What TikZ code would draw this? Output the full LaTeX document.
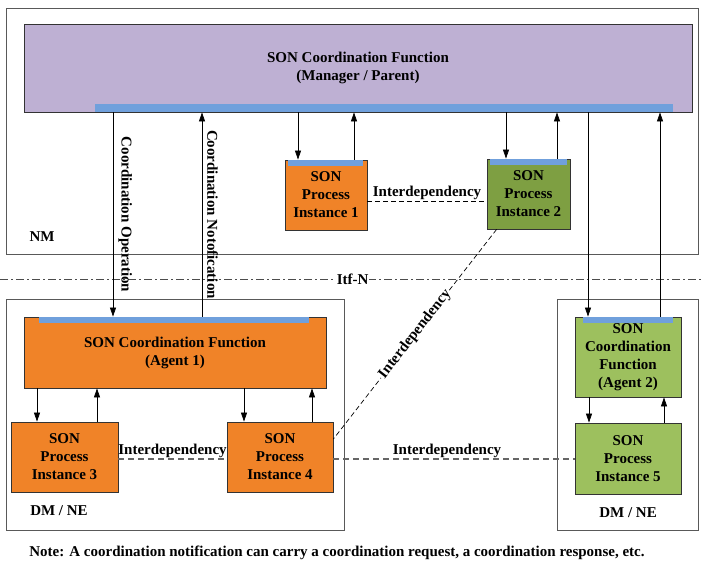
\documentclass[tikz,border=0pt]{standalone}
\usepackage{fontspec}
\setmainfont{Liberation Serif}
\usetikzlibrary{arrows.meta}
\definecolor{mgrpurple}{RGB}{190,176,211}
\definecolor{agentorange}{RGB}{240,131,40}
\definecolor{procgreen}{RGB}{126,159,66}
\definecolor{lightgreen}{RGB}{157,192,94}
\definecolor{barblue}{RGB}{112,160,220}
\begin{document}
\begin{tikzpicture}[
    x=1pt, y=-1pt,
    every node/.style={font=\bfseries\fontsize{15}{18}\selectfont},
    area/.style={rectangle, draw=black!65, line width=0.9pt, anchor=north west, inner sep=0pt},
    func/.style={rectangle, draw=black!80, line width=0.8pt, align=center, inner sep=0pt},
    bar/.style={fill=barblue},
    arrow/.style={->, >={Triangle[length=9pt, width=6pt]}, line width=0.7pt},
    link/.style={dash pattern=on 5pt off 3pt, line width=0.7pt},
    greylink/.style={draw=black!60, dash pattern=on 6pt off 4pt, line width=1.3pt}
]
    \useasboundingbox (0,0) rectangle (701,564);

    % areas
    \node[area, minimum width=692pt, minimum height=246pt] (nm) at (6,8) {};
    \node[area, minimum width=338pt, minimum height=231pt] (dmleft) at (6,299) {};
    \node[area, minimum width=141pt, minimum height=231pt] (dmright) at (557,299) {};
    \node (nmlabel) at (42,237) {NM};
    \node (dmleftlabel) at (59,511) {DM / NE};
    \node (dmrightlabel) at (628,513) {DM / NE};

    % functions and process instances
    \node[func, fill=mgrpurple, minimum width=668pt, minimum height=88pt] (mgr) at (358,68) {SON Coordination Function\\(Manager / Parent)};
    \node[func, fill=agentorange, minimum width=82pt, minimum height=70pt] (pi1) at (326,195) {SON\\Process\\Instance 1};
    \node[func, fill=procgreen, minimum width=83pt, minimum height=70pt] (pi2) at (528.5,194) {SON\\Process\\Instance 2};
    \node[func, fill=agentorange, minimum width=302pt, minimum height=71pt] (agent1) at (175,352.5) {SON Coordination Function\\(Agent 1)};
    \node[func, fill=agentorange, minimum width=107pt, minimum height=70pt] (pi3) at (64.5,457) {SON\\Process\\Instance 3};
    \node[func, fill=agentorange, minimum width=106pt, minimum height=70pt] (pi4) at (280,457) {SON\\Process\\Instance 4};
    \node[func, fill=lightgreen, minimum width=106pt, minimum height=80pt] (agent2) at (628,357) {SON\\Coordination\\Function\\(Agent 2)};
    \node[func, fill=lightgreen, minimum width=106pt, minimum height=71pt] (pi5) at (628,458.5) {SON\\Process\\Instance 5};

    % blue bars
    \fill[bar] ([xshift=71pt]mgr.south west) rectangle ([xshift=-19pt, yshift=8pt]mgr.south east);
    \fill[bar] ([xshift=3pt]pi1.north west) rectangle ([xshift=-4pt, yshift=-6pt]pi1.north east);
    \fill[bar] ([xshift=3pt]pi2.north west) rectangle ([xshift=-3pt, yshift=-6pt]pi2.north east);
    \fill[bar] ([xshift=15pt]agent1.north west) rectangle ([xshift=-17pt, yshift=-6pt]agent1.north east);
    \fill[bar] ([xshift=8pt]agent2.north west) rectangle ([xshift=-8pt, yshift=-6pt]agent2.north east);

    % Itf-N
    \coordinate (itfwest) at (0,279);
    \coordinate (itfeast) at (701,279);
    \draw[draw=black!70, dash pattern=on 8pt off 3pt on 2pt off 3pt, line width=0.7pt] (itfwest) -- (itfeast) node[pos=0.503, fill=white, inner sep=1pt] (itfn) {Itf-N};

    % manager <-> process instances
    \draw[arrow] ([xshift=-28pt]pi1.north |- mgr.south) -- ([xshift=-28pt]pi1.north);
    \draw[arrow] ([xshift=28pt]pi1.north) -- ([xshift=28pt]pi1.north |- mgr.south);
    \draw[arrow] ([xshift=-22.5pt]pi2.north |- mgr.south) -- ([xshift=-22.5pt]pi2.north);
    \draw[arrow] ([xshift=28.5pt]pi2.north) -- ([xshift=28.5pt]pi2.north |- mgr.south);

    % manager <-> agents
    \draw[arrow] ([xshift=-62pt]agent1.north |- mgr.south) -- ([xshift=-62pt]agent1.north)
        node[midway, anchor=south, rotate=-90, inner sep=5pt] {Coordination Operation};
    \draw[arrow] ([xshift=27pt]agent1.north) -- ([xshift=27pt]agent1.north |- mgr.south)
        node[midway, anchor=south, rotate=-90, inner sep=5pt] {Coordination Notofication};
    \draw[arrow] ([xshift=-40pt]agent2.north |- mgr.south) -- ([xshift=-40pt]agent2.north);
    \draw[arrow] ([xshift=32pt]agent2.north) -- ([xshift=32pt]agent2.north |- mgr.south);

    % agents <-> process instances
    \draw[arrow] ([xshift=-27.5pt]pi3.north |- agent1.south) -- ([xshift=-27.5pt]pi3.north);
    \draw[arrow] ([xshift=32.5pt]pi3.north) -- ([xshift=32.5pt]pi3.north |- agent1.south);
    \draw[arrow] ([xshift=-36pt]pi4.north |- agent1.south) -- ([xshift=-36pt]pi4.north);
    \draw[arrow] ([xshift=32pt]pi4.north) -- ([xshift=32pt]pi4.north |- agent1.south);
    \draw[arrow] ([xshift=-39pt]pi5.north |- agent2.south) -- ([xshift=-39pt]pi5.north);
    \draw[arrow] ([xshift=36pt]pi5.north) -- ([xshift=36pt]pi5.north |- agent2.south);

    % interdependencies
    \draw[link] ([yshift=-6pt]pi1.east) -- ([yshift=-6pt]pi1.east -| pi2.west)
        node[midway, above, inner sep=1pt] {Interdependency};
    \draw[link] ([xshift=10pt]pi2.south west) -- ([yshift=18pt]pi4.east)
        node[midway, sloped, fill=white, inner sep=1pt] {Interdependency};
    \draw[greylink] ([yshift=-2pt]pi3.east) -- ([yshift=-2pt]pi4.west)
        node[midway, above, inner sep=1pt] {Interdependency};
    \draw[greylink] ([yshift=-2pt]pi4.east) -- ([yshift=-2pt]pi4.east -| pi5.west)
        node[midway, above, inner sep=1pt, xshift=-7pt] {Interdependency};

    \node (note) at (337,553) {Note: A coordination notification can carry a coordination request, a coordination response, etc.};
\end{tikzpicture}
\end{document}
